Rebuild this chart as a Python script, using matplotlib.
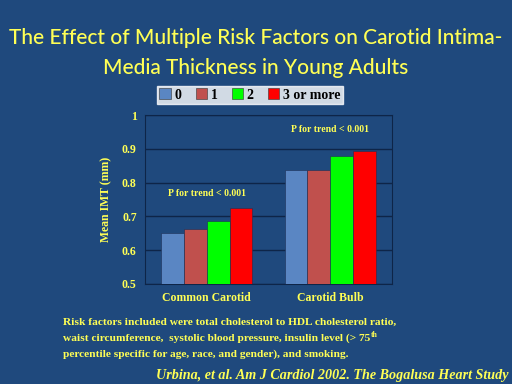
import numpy as np
import matplotlib.pyplot as plt
from matplotlib.patches import Patch

# data
sites = ["Common Carotid", "Carotid Bulb"]
groups = ["0", "1", "2", "3 or more"]
imt_0 = [0.650, 0.838]
imt_1 = [0.664, 0.837]
imt_2 = [0.685, 0.878]
imt_3 = [0.726, 0.894]
trend_text = ["P for trend < 0.001", "P for trend < 0.001"]

BG = "#1F497D"
YEL = "#FFFF55"
colors = ["#5A86C3", "#C0504D", "#00FF00", "#FF0000"]
serif = "Liberation Serif"

fig = plt.figure(figsize=(5.12, 3.84), dpi=100, facecolor=BG)
ax = fig.add_axes([145 / 512, 1 - 284 / 384, 247 / 512, 169 / 384])
ax.set_facecolor(BG)

x = np.arange(len(sites))
w = 0.185
for i, vals in enumerate([imt_0, imt_1, imt_2, imt_3]):
    ax.bar(x + (i - 1.5) * w, vals, w, color=colors[i], zorder=3,
           edgecolor="#1a2f55", linewidth=0.4)

ax.set_xlim(-0.5, 1.5)
ax.set_ylim(0.5, 1.0)
ax.set_yticks([0.5, 0.6, 0.7, 0.8, 0.9, 1.0])
ax.set_yticklabels(["0.5", "0.6", "0.7", "0.8", "0.9", "1"])
ax.yaxis.grid(True, color="#0E2548", linewidth=1.0, zorder=0)
ax.set_xticks(x)
ax.set_xticklabels(sites)
for s in ax.spines.values():
    s.set_color("#0E2548")
ax.tick_params(length=0, colors=YEL, pad=6)
for lab in ax.get_xticklabels() + ax.get_yticklabels():
    lab.set_fontfamily(serif)
    lab.set_fontweight("bold")
    lab.set_fontsize(8.5)
ax.set_ylabel("Mean IMT (mm)", color=YEL, fontfamily=serif,
              fontweight="bold", fontsize=8.5, labelpad=7)

ax.text(0, 0.755, trend_text[0], ha="center", va="bottom", color=YEL,
        fontfamily=serif, fontweight="bold", fontsize=7)
ax.text(1, 0.945, trend_text[1], ha="center", va="bottom", color=YEL,
        fontfamily=serif, fontweight="bold", fontsize=7)

handles = [Patch(facecolor=c, edgecolor="#333333", linewidth=0.4) for c in colors]
leg = fig.legend(handles, groups, loc="center", ncol=4,
                 bbox_to_anchor=(250 / 512, 1 - 95 / 384), frameon=True,
                 fancybox=False, handlelength=0.8, handleheight=0.8,
                 handletextpad=0.3, columnspacing=1.0, borderpad=0.2,
                 prop={"family": serif, "weight": "bold", "size": 10})
leg.get_frame().set_facecolor("white")
leg.get_frame().set_edgecolor("white")

fig.text(0.5, 1 - 38 / 384, "The Effect of Multiple Risk Factors on Carotid Intima-",
         ha="center", va="center", color=YEL, fontfamily="Lato",
         fontweight="medium", fontsize=15)
fig.text(0.5, 1 - 68 / 384, "Media Thickness in Young Adults",
         ha="center", va="center", color=YEL, fontfamily="Lato",
         fontweight="medium", fontsize=15)

note_lines = [
    "Risk factors included were total cholesterol to HDL cholesterol ratio,",
    "waist circumference,  systolic blood pressure, insulin level (> 75",
    "percentile specific for age, race, and gender), and smoking.",
]
note_txt = []
for k, line in enumerate(note_lines):
    t = fig.text(63 / 512, 1 - (322 + 16 * k) / 384, line, ha="left", va="center",
                 color=YEL, fontfamily=serif, fontweight="bold", fontsize=8.2)
    note_txt.append(t)

# superscript "th" after the 75
fig.canvas.draw()
bb = note_txt[1].get_window_extent()
fig.text((bb.x1 + 1) / 512, (bb.y1 + 2) / 384, "th", ha="left", va="top",
         color=YEL, fontfamily=serif, fontweight="bold", fontsize=5.5)

fig.text(508 / 512, 1 - 375 / 384,
         "Urbina, et al. Am J Cardiol 2002. The Bogalusa Heart Study",
         ha="right", va="center", color=YEL, fontfamily=serif,
         fontweight="bold", style="italic", fontsize=10.2)

fig.savefig("out.png", dpi=100, facecolor=BG)
